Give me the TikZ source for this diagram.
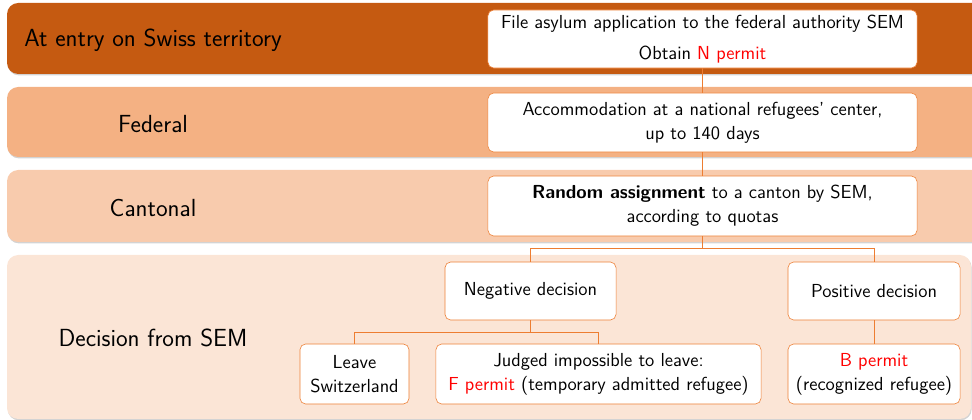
\documentclass[tikz,border=0pt]{standalone}
\usetikzlibrary{shadows}
\definecolor{bandA}{RGB}{197,90,17}
\definecolor{bandB}{RGB}{244,177,131}
\definecolor{bandC}{RGB}{248,203,173}
\definecolor{bandD}{RGB}{251,229,214}
\definecolor{edge}{RGB}{237,125,49}
\definecolor{permit}{RGB}{255,0,0}
\begin{document}
\begin{tikzpicture}[x=0.025cm, y=0.025cm, font=\sffamily\fontsize{13.4}{17}\selectfont,
  band/.style={rounded corners=8, drop shadow={shadow xshift=0.5pt, shadow yshift=-1pt, opacity=0.35}},
  bandlabel/.style={font=\sffamily\fontsize{17.6}{20}\selectfont},
  stepbox/.style={draw=edge, fill=white, rounded corners=4, align=center, inner sep=2pt},
  conn/.style={draw=edge, line width=0.6pt}]
\clip (0,0) rectangle (972,420);
% bands
\path[band, fill=bandA] (7,346) rectangle (990,417);
\path[band, fill=bandB] (7,263) rectangle (990,333);
\path[band, fill=bandC] (7,178) rectangle (990,250);
\path[band, fill=bandD] (7,1) rectangle (971,165);
\node[bandlabel, anchor=west, inner sep=0pt] (lentry) at (24,380) {At entry on Swiss territory};
\node[bandlabel] (lfed) at (153,296) {Federal};
\node[bandlabel] (lcant) at (153,212) {Cantonal};
\node[bandlabel] (ldec) at (153,82) {Decision from SEM};
% boxes
\node[stepbox, minimum width=10.725cm, minimum height=1.45cm] (file) at (702.5,381)
  {File asylum application to the federal authority SEM\\[5pt] Obtain \textcolor{permit}{N permit}};
\node[stepbox, minimum width=10.725cm, minimum height=1.475cm] (accom) at (702.5,297.5)
  {Accommodation at a national refugees' center,\\ up to 140 days};
\node[stepbox, minimum width=10.725cm, minimum height=1.5cm] (assign) at (702.5,214)
  {\textbf{Random assignment} to a canton by SEM,\\ according to quotas};
\node[stepbox, minimum width=4.275cm, minimum height=1.45cm] (neg) at (530.5,129) {Negative decision};
\node[stepbox, minimum width=4.3cm, minimum height=1.45cm] (pos) at (874,129) {Positive decision};
\node[stepbox, minimum width=2.725cm, minimum height=1.5cm] (leave) at (354.5,46) {Leave\\ Switzerland};
\node[stepbox, minimum width=8.125cm, minimum height=1.5cm] (judged) at (598.5,46)
  {Judged impossible to leave:\\ \textcolor{permit}{F permit} (temporary admitted refugee)};
\node[stepbox, minimum width=4.3cm, minimum height=1.5cm] (bperm) at (874,46)
  {\textcolor{permit}{B permit}\\ (recognized refugee)};
% connectors
\draw[conn] (file) -- (accom);
\draw[conn] (accom) -- (assign);
\draw[conn] (assign.south) -- ++(0,-12) -| (neg.north);
\draw[conn] (assign.south) -- ++(0,-12) -| (pos.north);
\draw[conn] (neg.south) -- ++(0,-12) -| (leave.north);
\draw[conn] (neg.south) -- ++(0,-12) -| (judged.north);
\draw[conn] (pos) -- (bperm);
\end{tikzpicture}
\end{document}
